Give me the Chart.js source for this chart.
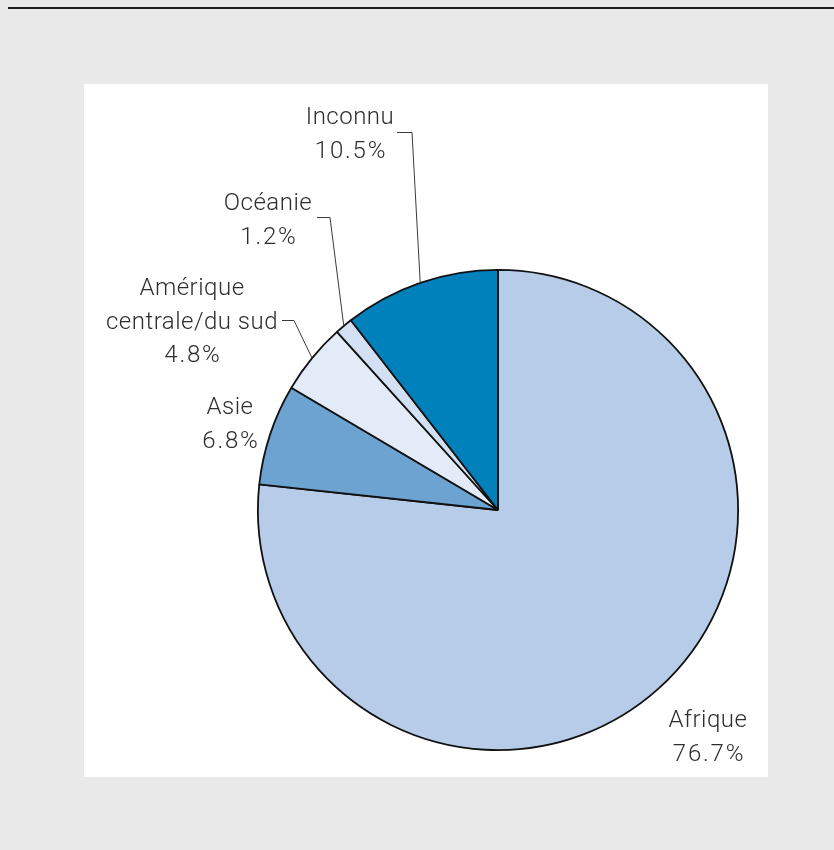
<!DOCTYPE html>
<html lang="fr">
<head>
<meta charset="utf-8">
<title>Répartition par région</title>
<script src="https://cdn.jsdelivr.net/npm/chart.js@4"></script>
<style>
  html, body { margin: 0; padding: 0; }
  body { width: 834px; height: 850px; background: #e8e9e8; position: relative; overflow: hidden; }
  #rule { position: absolute; left: 8px; right: 0; top: 7px; height: 2px; background: #1e1e1e; }
  #panel { position: absolute; left: 84px; top: 84px; width: 684px; height: 693px; background: #fff; }
  #chart { position: absolute; left: 0; top: 0; }
</style>
</head>
<body>
<div id="rule"></div>
<div id="panel"></div>
<canvas id="chart" width="834" height="850"></canvas>
<script>
// parts en %, dans le sens horaire depuis midi
const regions = ['Afrique', 'Asie', 'Amérique centrale/du sud', 'Océanie', 'Inconnu'];
const parts = [76.7, 6.8, 4.8, 1.2, 10.5];
const couleurs = ['#b7cce9', '#6ca3d1', '#e4ebf8', '#d3e0f4', '#0081bc'];

// texte des étiquettes (lignes) et placement
const lignesEtiquettes = [
    ['Afrique'],
    ['Asie'],
    ['Amérique', 'centrale/du sud'],
    ['Océanie'],
    ['Inconnu']
];
const placement = [
    { x: 708, y: 727 },
    { x: 230, y: 414 },
    { x: 192, y: 295 },
    { x: 268, y: 210 },
    { x: 350, y: 124 }
];
// coudes des traits de rappel : [x début, x coude, y]
const rappels = [null, null, [282, 294, 320], [317, 330, 217], [397, 412, 132]];

const etiquettes = {
    id: 'etiquettes',
    afterDatasetsDraw(chart) {
        const ctx = chart.ctx;
        const arcs = chart.getDatasetMeta(0).data;
        ctx.save();
        // traits de rappel vers le milieu de l'arc extérieur
        ctx.strokeStyle = '#3a3a3a';
        ctx.lineWidth = 1;
        arcs.forEach((arc, i) => {
            const r = rappels[i];
            if (!r) return;
            const mid = (arc.startAngle + arc.endAngle) / 2;
            const px = arc.x + arc.outerRadius * Math.cos(mid);
            const py = arc.y + arc.outerRadius * Math.sin(mid);
            ctx.beginPath();
            ctx.moveTo(r[0], r[2] + 0.5);
            ctx.lineTo(r[1], r[2] + 0.5);
            ctx.lineTo(px, py);
            ctx.stroke();
        });
        ctx.fillStyle = '#2e2e2e';
        ctx.font = '300 24px Roboto';
        ctx.textAlign = 'center';
        ctx.textBaseline = 'alphabetic';
        parts.forEach((v, i) => {
            const lignes = lignesEtiquettes[i];
            ctx.letterSpacing = '0.5px';
            lignes.forEach((t, k) => {
                ctx.fillText(t, placement[i].x, placement[i].y + k * 33.5);
            });
            // le pourcentage est un peu plus espacé
            ctx.letterSpacing = '1.8px';
            ctx.fillText(v.toFixed(1) + '%', placement[i].x + 1, placement[i].y + lignes.length * 33.5);
        });
        ctx.restore();
    }
};

new Chart(document.getElementById('chart'), {
    type: 'pie',
    data: {
        labels: regions,
        datasets: [{
            data: parts,
            backgroundColor: couleurs,
            borderColor: '#111',
            borderWidth: 1.8
        }]
    },
    options: {
        responsive: false,
        animation: false,
        layout: { padding: { left: 257, right: 95, top: 269, bottom: 99 } },
        plugins: {
            legend: { display: false },
            tooltip: { enabled: false }
        }
    },
    plugins: [etiquettes]
});
</script>
</body>
</html>
